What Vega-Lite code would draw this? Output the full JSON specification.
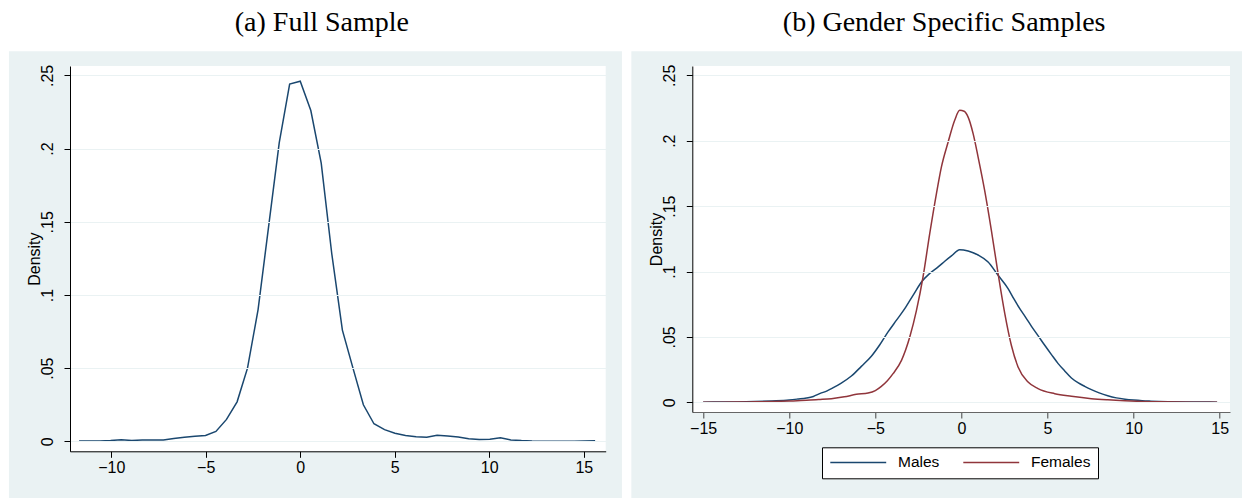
{
  "$schema": "https://vega.github.io/schema/vega-lite/v6.json",
  "background": "white",
  "padding": {"left": 8, "top": 9, "right": 0, "bottom": 0},
  "bounds": "flush",
  "spacing": 86.3,
  "config": {
    "view": {"stroke": null, "fill": "white"},
    "title": {"font": "Liberation Serif", "fontSize": 28, "fontWeight": "normal", "color": "black", "anchor": "middle", "baseline": "alphabetic", "offset": 14},
    "axis": {
      "domainColor": "black", "domainWidth": 1, "tickColor": "black", "tickSize": 6, "tickWidth": 1,
      "labelFont": "Liberation Sans", "labelFontSize": 16, "labelColor": "black",
      "titleFont": "Liberation Sans", "titleFontSize": 16, "titleFontWeight": "normal", "titleColor": "black",
      "gridColor": "#EAF2F3", "gridWidth": 1.2
    }
  },
  "datasets": {
    "full": [
      {"x": -11.70, "density": 0.0003}, {"x": -11.14, "density": 0.0003}, {"x": -10.59, "density": 0.0003},
      {"x": -10.03, "density": 0.0005}, {"x": -9.47, "density": 0.0011}, {"x": -8.91, "density": 0.0006},
      {"x": -8.36, "density": 0.001}, {"x": -7.80, "density": 0.001}, {"x": -7.24, "density": 0.001},
      {"x": -6.69, "density": 0.002}, {"x": -6.13, "density": 0.0028}, {"x": -5.57, "density": 0.0035},
      {"x": -5.01, "density": 0.004}, {"x": -4.46, "density": 0.0068}, {"x": -3.90, "density": 0.015},
      {"x": -3.34, "density": 0.027}, {"x": -2.79, "density": 0.05}, {"x": -2.23, "density": 0.09},
      {"x": -1.67, "density": 0.147}, {"x": -1.11, "density": 0.204}, {"x": -0.56, "density": 0.244},
      {"x": 0.0, "density": 0.246}, {"x": 0.56, "density": 0.226}, {"x": 1.11, "density": 0.19},
      {"x": 1.67, "density": 0.128}, {"x": 2.23, "density": 0.076}, {"x": 2.79, "density": 0.05},
      {"x": 3.34, "density": 0.025}, {"x": 3.90, "density": 0.012}, {"x": 4.46, "density": 0.008},
      {"x": 5.01, "density": 0.0055}, {"x": 5.57, "density": 0.004}, {"x": 6.13, "density": 0.0032},
      {"x": 6.69, "density": 0.0028}, {"x": 7.24, "density": 0.0042}, {"x": 7.80, "density": 0.0037},
      {"x": 8.36, "density": 0.003}, {"x": 8.91, "density": 0.0018}, {"x": 9.47, "density": 0.0012},
      {"x": 10.03, "density": 0.0014}, {"x": 10.59, "density": 0.0024}, {"x": 11.14, "density": 0.001},
      {"x": 11.70, "density": 0.0005}, {"x": 12.26, "density": 0.0002}, {"x": 12.81, "density": 0.0001},
      {"x": 13.37, "density": 0.0001}, {"x": 13.93, "density": 0.0001}, {"x": 14.49, "density": 0.0001},
      {"x": 15.04, "density": 0.0002}, {"x": 15.60, "density": 0.0004}
    ],
    "gender": [
      {"group": "Males", "x": -15, "density": 0.0001}, {"group": "Males", "x": -14, "density": 0.0002},
      {"group": "Males", "x": -13, "density": 0.0003}, {"group": "Males", "x": -12, "density": 0.0006},
      {"group": "Males", "x": -11, "density": 0.0011}, {"group": "Males", "x": -10, "density": 0.0018},
      {"group": "Males", "x": -9.5, "density": 0.0025}, {"group": "Males", "x": -9, "density": 0.0033},
      {"group": "Males", "x": -8.6, "density": 0.0045}, {"group": "Males", "x": -8.2, "density": 0.0068},
      {"group": "Males", "x": -7.8, "density": 0.0088}, {"group": "Males", "x": -7.55, "density": 0.0105},
      {"group": "Males", "x": -7.0, "density": 0.0145}, {"group": "Males", "x": -6.39, "density": 0.0201},
      {"group": "Males", "x": -5.81, "density": 0.0275}, {"group": "Males", "x": -5.23, "density": 0.0352},
      {"group": "Males", "x": -4.74, "density": 0.044}, {"group": "Males", "x": -4.26, "density": 0.0538},
      {"group": "Males", "x": -3.77, "density": 0.0628}, {"group": "Males", "x": -3.29, "density": 0.0716},
      {"group": "Males", "x": -2.8, "density": 0.082}, {"group": "Males", "x": -2.32, "density": 0.092},
      {"group": "Males", "x": -1.84, "density": 0.0985}, {"group": "Males", "x": -1.35, "density": 0.1035},
      {"group": "Males", "x": -0.95, "density": 0.108}, {"group": "Males", "x": -0.58, "density": 0.1119},
      {"group": "Males", "x": -0.1, "density": 0.1167}, {"group": "Males", "x": 0.39, "density": 0.1157},
      {"group": "Males", "x": 0.97, "density": 0.1126}, {"group": "Males", "x": 1.55, "density": 0.1073},
      {"group": "Males", "x": 2.13, "density": 0.0971}, {"group": "Males", "x": 2.71, "density": 0.0869},
      {"group": "Males", "x": 3.05, "density": 0.079}, {"group": "Males", "x": 3.39, "density": 0.0716},
      {"group": "Males", "x": 3.73, "density": 0.065}, {"group": "Males", "x": 4.07, "density": 0.0581},
      {"group": "Males", "x": 4.45, "density": 0.051}, {"group": "Males", "x": 4.84, "density": 0.0436},
      {"group": "Males", "x": 5.23, "density": 0.0365}, {"group": "Males", "x": 5.62, "density": 0.0296},
      {"group": "Males", "x": 6.0, "density": 0.024}, {"group": "Males", "x": 6.39, "density": 0.0186},
      {"group": "Males", "x": 6.77, "density": 0.015}, {"group": "Males", "x": 7.16, "density": 0.0122},
      {"group": "Males", "x": 7.55, "density": 0.0097}, {"group": "Males", "x": 8.0, "density": 0.0072},
      {"group": "Males", "x": 8.5, "density": 0.005}, {"group": "Males", "x": 9.0, "density": 0.0034},
      {"group": "Males", "x": 9.5, "density": 0.0024}, {"group": "Males", "x": 10.0, "density": 0.0017},
      {"group": "Males", "x": 10.5, "density": 0.0012}, {"group": "Males", "x": 11.0, "density": 0.0009},
      {"group": "Males", "x": 12.0, "density": 0.0005}, {"group": "Males", "x": 13.0, "density": 0.0003},
      {"group": "Males", "x": 14.0, "density": 0.0002}, {"group": "Males", "x": 14.85, "density": 0.0001},
      {"group": "Females", "x": -15, "density": 0.0001}, {"group": "Females", "x": -14, "density": 0.0001},
      {"group": "Females", "x": -13, "density": 0.0002}, {"group": "Females", "x": -12, "density": 0.0004},
      {"group": "Females", "x": -11, "density": 0.0006}, {"group": "Females", "x": -10, "density": 0.001},
      {"group": "Females", "x": -9, "density": 0.0015}, {"group": "Females", "x": -8.3, "density": 0.0021},
      {"group": "Females", "x": -7.55, "density": 0.0028}, {"group": "Females", "x": -6.8, "density": 0.0042},
      {"group": "Females", "x": -6.1, "density": 0.0061}, {"group": "Females", "x": -5.42, "density": 0.0071},
      {"group": "Females", "x": -5.0, "density": 0.009}, {"group": "Females", "x": -4.65, "density": 0.0122},
      {"group": "Females", "x": -4.3, "density": 0.0165}, {"group": "Females", "x": -3.97, "density": 0.0219},
      {"group": "Females", "x": -3.48, "density": 0.0321}, {"group": "Females", "x": -3.0, "density": 0.0499},
      {"group": "Females", "x": -2.61, "density": 0.0703}, {"group": "Females", "x": -2.23, "density": 0.0958},
      {"group": "Females", "x": -1.84, "density": 0.129}, {"group": "Females", "x": -1.45, "density": 0.1596},
      {"group": "Females", "x": -1.16, "density": 0.18}, {"group": "Females", "x": -0.77, "density": 0.199},
      {"group": "Females", "x": -0.39, "density": 0.2156}, {"group": "Females", "x": -0.1, "density": 0.2232},
      {"group": "Females", "x": 0.16, "density": 0.2225}, {"group": "Females", "x": 0.39, "density": 0.218},
      {"group": "Females", "x": 0.68, "density": 0.2054}, {"group": "Females", "x": 0.97, "density": 0.1875},
      {"group": "Females", "x": 1.35, "density": 0.162}, {"group": "Females", "x": 1.74, "density": 0.1315},
      {"group": "Females", "x": 2.13, "density": 0.0984}, {"group": "Females", "x": 2.52, "density": 0.0678},
      {"group": "Females", "x": 2.9, "density": 0.0436}, {"group": "Females", "x": 3.29, "density": 0.027},
      {"group": "Females", "x": 3.87, "density": 0.0155}, {"group": "Females", "x": 4.45, "density": 0.0105},
      {"group": "Females", "x": 5.42, "density": 0.0066}, {"group": "Females", "x": 6.39, "density": 0.0046},
      {"group": "Females", "x": 7.55, "density": 0.0028}, {"group": "Females", "x": 8.5, "density": 0.0019},
      {"group": "Females", "x": 9.5, "density": 0.0012}, {"group": "Females", "x": 10.5, "density": 0.0007},
      {"group": "Females", "x": 11.5, "density": 0.0004}, {"group": "Females", "x": 12.5, "density": 0.0002},
      {"group": "Females", "x": 13.5, "density": 0.0001}, {"group": "Females", "x": 14.85, "density": 0.0001}
    ]
  },
  "hconcat": [
    {
      "width": 535.7,
      "height": 385.3,
      "title": {"text": "(a) Full Sample", "dx": -16},
      "layer": [
        {
          "data": {"values": [{}]},
          "mark": {"type": "rect", "fill": "#EAF2F3", "clip": false},
          "encoding": {
            "x": {"datum": -15.41, "type": "quantitative", "scale": {"domain": [-12.18, 16.16], "nice": false, "zero": false}},
            "x2": {"datum": 17.02},
            "y": {"datum": 0.2664, "type": "quantitative", "scale": {"domain": [-0.0068, 0.2564], "nice": false, "zero": false}},
            "y2": {"datum": -0.0389}
          }
        },
        {
          "data": {"values": [{}]},
          "mark": {"type": "rect", "fill": "white"},
          "encoding": {
            "x": {"datum": -12.18, "type": "quantitative", "scale": {"domain": [-12.18, 16.16], "nice": false, "zero": false}},
            "x2": {"datum": 16.16},
            "y": {"datum": 0.2564, "type": "quantitative", "scale": {"domain": [-0.0068, 0.2564], "nice": false, "zero": false}},
            "y2": {"datum": -0.0068}
          }
        },
        {
          "data": {"name": "full"},
          "mark": {"type": "line", "color": "#1A476F", "strokeWidth": 1.5},
          "encoding": {
            "x": {
              "field": "x", "type": "quantitative",
              "scale": {"domain": [-12.18, 16.16], "nice": false, "zero": false},
              "axis": {"title": null, "values": [-10, -5, 0, 5, 10, 15], "grid": false, "labelPadding": 2, "zindex": 1, "labelFlush": false}
            },
            "y": {
              "field": "density", "type": "quantitative",
              "scale": {"domain": [-0.0068, 0.2564], "nice": false, "zero": false},
              "axis": {
                "title": "Density", "values": [0, 0.05, 0.1, 0.15, 0.2, 0.25], "grid": true, "zindex": 1,
                "labelAngle": -90, "labelAlign": "center", "labelBaseline": "alphabetic", "labelPadding": 12, "titlePadding": -3,
                "labelFlush": false,
                "labelExpr": "replace(format(datum.value, '.2~f'), '0.', '.')"
              }
            }
          }
        }
      ]
    },
    {
      "width": 537.7,
      "height": 346,
      "title": {"text": "(b) Gender Specific Samples", "dx": -17},
      "layer": [
        {
          "data": {"values": [{}]},
          "mark": {"type": "rect", "fill": "#EAF2F3", "clip": false},
          "encoding": {
            "x": {"datum": -19.17, "type": "quantitative", "scale": {"domain": [-15.63, 15.6], "nice": false, "zero": false}},
            "x2": {"datum": 16.37},
            "y": {"datum": 0.2683, "type": "quantitative", "scale": {"domain": [-0.0074, 0.2571], "nice": false, "zero": false}},
            "y2": {"datum": -0.0734}
          }
        },
        {
          "data": {"values": [{}]},
          "mark": {"type": "rect", "fill": "white"},
          "encoding": {
            "x": {"datum": -15.63, "type": "quantitative", "scale": {"domain": [-15.63, 15.6], "nice": false, "zero": false}},
            "x2": {"datum": 15.6},
            "y": {"datum": 0.2571, "type": "quantitative", "scale": {"domain": [-0.0074, 0.2571], "nice": false, "zero": false}},
            "y2": {"datum": -0.0074}
          }
        },
        {
          "data": {"name": "gender"},
          "mark": {"type": "line", "strokeWidth": 1.5, "interpolate": "monotone"},
          "encoding": {
            "x": {
              "field": "x", "type": "quantitative",
              "scale": {"domain": [-15.63, 15.6], "nice": false, "zero": false},
              "axis": {"title": null, "values": [-15, -10, -5, 0, 5, 10, 15], "grid": false, "labelPadding": 2, "zindex": 1, "labelFlush": false, "domainColor": "#666666", "tickColor": "#444444"}
            },
            "y": {
              "field": "density", "type": "quantitative",
              "scale": {"domain": [-0.0074, 0.2571], "nice": false, "zero": false},
              "axis": {
                "title": "Density", "values": [0, 0.05, 0.1, 0.15, 0.2, 0.25], "grid": true, "zindex": 1,
                "labelAngle": -90, "labelAlign": "center", "labelBaseline": "alphabetic", "labelPadding": 12, "titlePadding": -3,
                "labelFlush": false,
                "labelExpr": "replace(format(datum.value, '.2~f'), '0.', '.')"
              }
            },
            "color": {
              "field": "group", "type": "nominal",
              "scale": {"domain": ["Males", "Females"], "range": ["#1A476F", "#90353B"]},
              "legend": {
                "orient": "none", "legendX": 752, "legendY": 381.3, "direction": "horizontal", "title": null,
                "symbolType": "M-5,0H5", "symbolSize": 125, "symbolStrokeWidth": 1.5, "symbolOffset": 21.5,
                "labelOffset": 32, "columnPadding": 20, "padding": 7,
                "labelFont": "Liberation Sans", "labelFontSize": 15.5, "labelColor": "black",
                "strokeColor": "black", "fillColor": "white"
              }
            }
          }
        }
      ]
    }
  ]
}
